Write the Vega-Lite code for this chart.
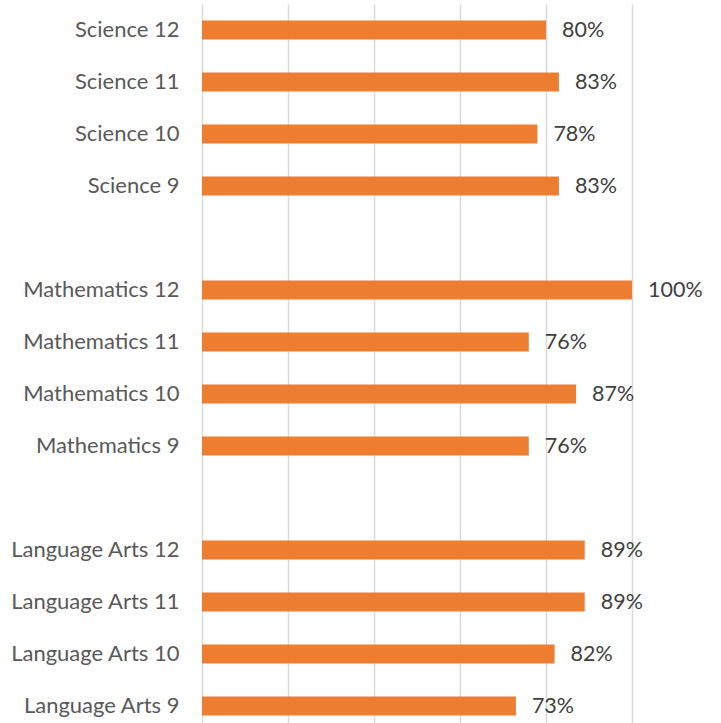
{
  "$schema": "https://vega.github.io/schema/vega-lite/v6.json",
  "width": 430,
  "height": 728,
  "autosize": {"type": "none"},
  "padding": {"left": 202, "top": 4, "right": 89, "bottom": 0},
  "background": "white",
  "data": {
    "values": [
      {"course": "Science 12", "pct": 0.80},
      {"course": "Science 11", "pct": 0.83},
      {"course": "Science 10", "pct": 0.78},
      {"course": "Science 9", "pct": 0.83},
      {"course": "Mathematics 12", "pct": 1.00},
      {"course": "Mathematics 11", "pct": 0.76},
      {"course": "Mathematics 10", "pct": 0.87},
      {"course": "Mathematics 9", "pct": 0.76},
      {"course": "Language Arts 12", "pct": 0.89},
      {"course": "Language Arts 11", "pct": 0.89},
      {"course": "Language Arts 10", "pct": 0.82},
      {"course": "Language Arts 9", "pct": 0.73}
    ]
  },
  "config": {
    "view": {"stroke": null},
    "font": "Lato"
  },
  "encoding": {
    "y": {
      "field": "course",
      "type": "nominal",
      "scale": {
        "domain": ["Science 12", "Science 11", "Science 10", "Science 9", " ", "Mathematics 12", "Mathematics 11", "Mathematics 10", "Mathematics 9", "  ", "Language Arts 12", "Language Arts 11", "Language Arts 10", "Language Arts 9"],
        "paddingInner": 0.635,
        "paddingOuter": 0.3175
      },
      "axis": {
        "title": null,
        "domain": false,
        "ticks": false,
        "labelFontSize": 22,
        "labelColor": "#595959",
        "labelPadding": 23,
        "labelFont": "Lato"
      }
    },
    "x": {
      "field": "pct",
      "type": "quantitative",
      "scale": {"domain": [0, 1], "nice": false},
      "axis": {
        "title": null,
        "orient": "top",
        "values": [0, 0.2, 0.4, 0.6, 0.8, 1.0],
        "labels": false,
        "ticks": false,
        "domain": false,
        "grid": true,
        "gridColor": "#d9d9d9",
        "gridWidth": 1.5
      }
    }
  },
  "layer": [
    {"mark": {"type": "bar", "color": "#ED7D31"}},
    {
      "mark": {"type": "text", "align": "left", "baseline": "middle", "dx": 16, "dy": 1, "fontSize": 21.5, "color": "#404040", "font": "Lato"},
      "encoding": {"text": {"field": "pct", "type": "quantitative", "format": ".0%"}}
    }
  ]
}
